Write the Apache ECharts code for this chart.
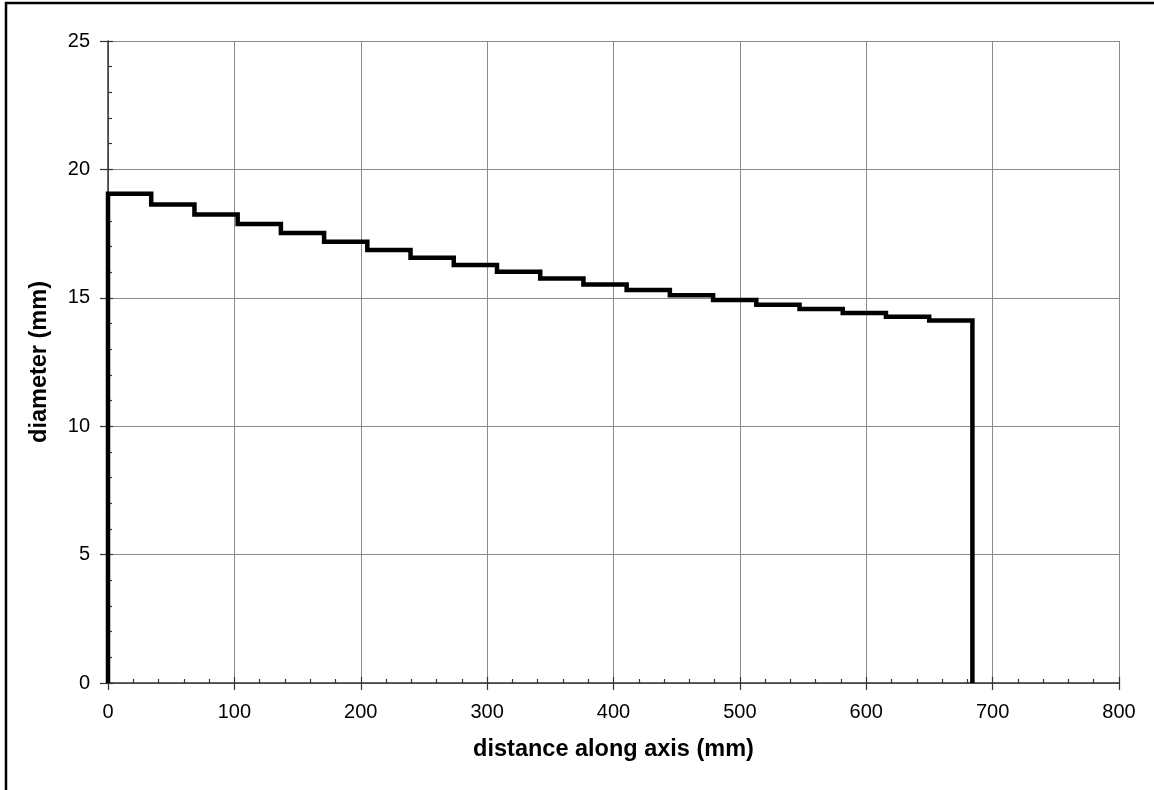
<!DOCTYPE html>
<html>
<head>
<meta charset="utf-8">
<style>
  html, body { margin: 0; padding: 0; background: #fff; }
  #chart { width: 1154px; height: 790px; }
</style>
<script src="https://cdn.jsdelivr.net/npm/echarts@6/dist/echarts.min.js"></script>
</head>
<body>
<div id="chart"></div>
<script>
// Stepped shaft profile: section boundaries along the axis and the diameter of each section
const sectionEdges = [0, 34.2, 68.4, 102.6, 136.8, 171, 205.2, 239.4, 273.6, 307.8, 342,
                      376.2, 410.4, 444.6, 478.8, 513, 547.2, 581.4, 615.6, 649.8, 684];
const sectionDiameters = [19.05, 18.63, 18.24, 17.87, 17.52, 17.18, 16.86, 16.56, 16.28, 16.01,
                          15.75, 15.52, 15.30, 15.10, 14.91, 14.73, 14.56, 14.41, 14.26, 14.12];
const xTickLabels = ['0', '100', '200', '300', '400', '500', '600', '700', '800'];
const yTickLabels = ['0', '5', '10', '15', '20', '25'];

// Outline of the profile: rise at the start, flat top per section, drop at the end
const profile = [[sectionEdges[0], 0]];
sectionDiameters.forEach((d, i) => {
  profile.push([sectionEdges[i], d]);
  profile.push([sectionEdges[i + 1], d]);
});
profile.push([sectionEdges[sectionEdges.length - 1], 0]);

const font = 'Liberation Sans, Arial, sans-serif';
const gridColor = '#8a8a8a';
const axisColor = '#333';

const chart = echarts.init(document.getElementById('chart'), null, { renderer: 'canvas' });
chart.setOption({
  animation: false,
  backgroundColor: '#fff',
  grid: { left: 108, right: 35, top: 41, bottom: 107, containLabel: false },
  graphic: [{
    type: 'rect',
    shape: { x: 6, y: 3, width: 1300, height: 1000 },
    style: { fill: 'none', stroke: '#000', lineWidth: 2.5 },
    silent: true, z: 100
  }],
  xAxis: [{
    type: 'value', min: 0, max: 800, interval: 100, position: 'bottom',
    name: 'distance along axis (mm)', nameLocation: 'middle', nameGap: 55,
    nameTextStyle: { fontFamily: font, fontSize: 23.5, fontWeight: 'bold', color: '#000' },
    axisLine: { show: true, onZero: false, lineStyle: { color: axisColor, width: 1.5 } },
    axisTick: { show: true, inside: false, length: 7, lineStyle: { color: axisColor, width: 1.2 } },
    axisLabel: {
      fontFamily: font, fontSize: 20, color: '#000', margin: 19,
      formatter: (v) => xTickLabels[Math.round(v / 100)]
    },
    splitLine: { show: true, lineStyle: { color: gridColor, width: 1 } }
  }, {
    type: 'value', min: 0, max: 800, interval: 100, position: 'bottom',
    axisLine: { show: false },
    axisTick: { show: true, inside: true, length: 6, lineStyle: { color: axisColor, width: 1.2 } },
    minorTick: { show: true, splitNumber: 5, length: 4, lineStyle: { color: axisColor, width: 1.2 } },
    axisLabel: { show: false },
    splitLine: { show: false }
  }],
  yAxis: [{
    type: 'value', min: 0, max: 25, interval: 5, position: 'left',
    name: 'diameter (mm)', nameLocation: 'middle', nameGap: 56, nameRotate: 90,
    nameTextStyle: { fontFamily: font, fontSize: 23.5, fontWeight: 'bold', color: '#000' },
    axisLine: { show: true, onZero: false, lineStyle: { color: axisColor, width: 1.5 } },
    axisTick: { show: true, inside: false, length: 8, lineStyle: { color: axisColor, width: 1.2 } },
    axisLabel: {
      fontFamily: font, fontSize: 20, color: '#000', margin: 18,
      formatter: (v) => yTickLabels[Math.round(v / 5)]
    },
    splitLine: { show: true, lineStyle: { color: gridColor, width: 1 } }
  }, {
    type: 'value', min: 0, max: 25, interval: 5, position: 'left',
    axisLine: { show: false },
    axisTick: { show: true, inside: true, length: 5, lineStyle: { color: axisColor, width: 1.2 } },
    minorTick: { show: true, splitNumber: 5, length: 4, lineStyle: { color: axisColor, width: 1.2 } },
    axisLabel: { show: false },
    splitLine: { show: false }
  }],
  series: [{
    type: 'line',
    xAxisIndex: 0, yAxisIndex: 0,
    data: profile,
    showSymbol: false,
    symbol: 'none',
    clip: false,
    lineStyle: { color: '#000', width: 4.5, join: 'miter', cap: 'butt' },
    z: 10
  }]
});
</script>
</body>
</html>
